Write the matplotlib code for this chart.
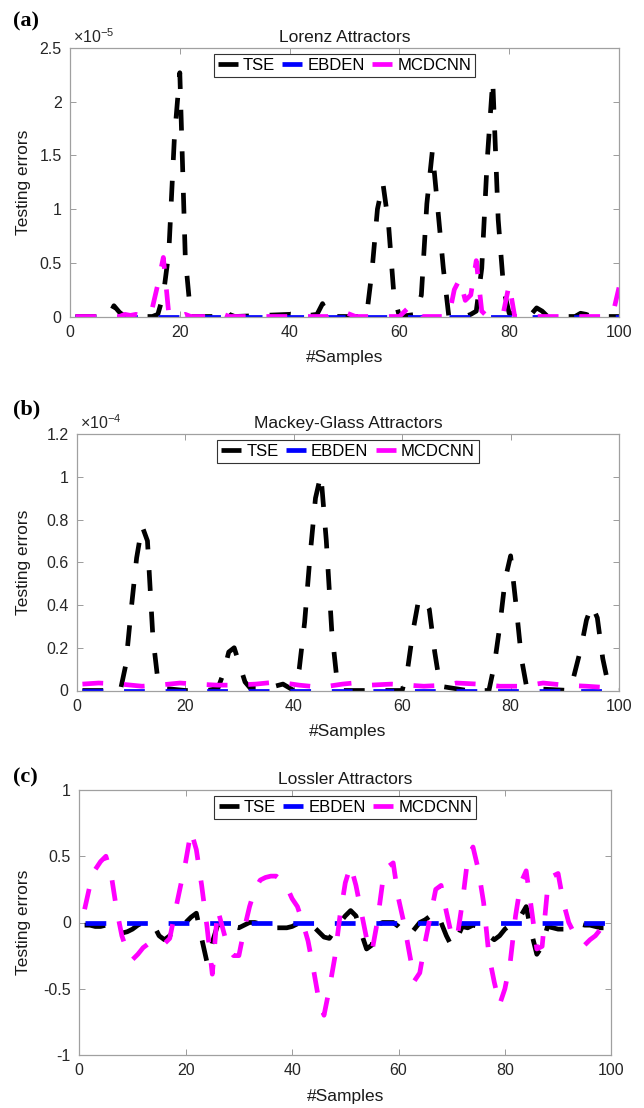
import matplotlib
matplotlib.use("Agg")
import matplotlib.pyplot as plt
from matplotlib.ticker import FuncFormatter

plt.rcParams['font.family'] = ['Liberation Sans', 'DejaVu Sans']
plt.rcParams['mathtext.default'] = 'regular'

samples = list(range(1, 101))
xticks = [0, 20, 40, 60, 80, 100]
series_names = ['TSE', 'EBDEN', 'MCDCNN']
series_colors = ['#000000', '#0000ff', '#ff00ff']

# (a) Lorenz attractors, errors in units of 1e-5 (read at the visible turning points)
tse_a_x = [1, 7, 8, 9, 10, 15, 16, 17, 18, 19, 20, 21, 22, 26, 27, 28, 29, 30, 40, 42,
           45, 46, 47, 54, 55, 56, 57, 58, 59, 60, 63, 64, 65, 66, 67, 68, 69, 72, 73,
           74, 75, 76, 77, 78, 79, 80, 84, 85, 86, 87, 92, 93, 94, 95, 100]
tse_a = [0.0, 0.0, 0.1, 0.04, 0.0, 0.0, 0.02, 0.2, 0.6, 1.65, 2.27, 0.55, 0.0, 0.0, 0.03,
         0.07, 0.02, 0.0, 0.02, 0.0, 0.02, 0.12, 0.0, 0.0, 0.42, 1.0, 1.24, 0.87, 0.2, 0.0,
         0.02, 0.2, 1.05, 1.54, 1.0, 0.45, 0.0, 0.0, 0.02, 0.05, 0.45, 1.46, 2.2, 0.9, 0.25,
         0.03, 0.02, 0.08, 0.05, 0.0, 0.0, 0.03, 0.02, 0.0, 0.0]
ebden_a = [0.0] * 100
mcd_a_x = [1, 9, 10, 11, 12, 14, 15, 16, 17, 18, 20, 21, 22, 25, 26, 27, 28, 29, 47, 48,
           49, 50, 51, 52, 60, 61, 62, 63, 64, 69, 70, 71, 72, 73, 74, 75, 76, 79, 80, 81,
           98, 99, 100]
mcd_a = [0.0, 0.0, 0.02, 0.01, 0.02, 0.0, 0.08, 0.3, 0.55, 0.02, 0.0, 0.02, 0.0, 0.0, 0.02,
         0.01, 0.02, 0.0, 0.0, 0.02, 0.01, 0.04, 0.02, 0.0, 0.0, 0.05, 0.1, 0.08, 0.0, 0.0,
         0.25, 0.35, 0.15, 0.2, 0.52, 0.05, 0.0, 0.05, 0.3, 0.0, 0.0, 0.05, 0.27]

# (b) Mackey-Glass attractors, errors in units of 1e-4
tse_b_x = [1, 8, 9, 10, 11, 12, 13, 14, 15, 16, 20, 24, 26, 27, 28, 29, 30, 31, 32, 35,
           38, 40, 41, 42, 43, 44, 45, 46, 47, 48, 49, 60, 61, 62, 63, 64, 65, 66, 67, 72,
           73, 74, 76, 77, 78, 79, 80, 81, 82, 83, 91, 92, 93, 94, 95, 96, 97, 98, 100]
tse_b = [0.0, 0.0, 0.12, 0.38, 0.62, 0.77, 0.7, 0.25, 0.03, 0.01, 0.0, 0.0, 0.01, 0.08,
         0.18, 0.2, 0.12, 0.04, 0.01, 0.01, 0.03, 0.0, 0.1, 0.32, 0.63, 0.9, 1.01, 0.7,
         0.28, 0.04, 0.0, 0.0, 0.1, 0.28, 0.42, 0.43, 0.38, 0.18, 0.02, 0.0, 0.01, 0.0,
         0.0, 0.12, 0.3, 0.52, 0.63, 0.4, 0.15, 0.01, 0.0, 0.1, 0.2, 0.33, 0.4, 0.34, 0.15,
         0.03, 0.01]
ebden_b = [0.0] * 100
mcd_b_x = [1, 4, 8, 12, 15, 19, 22, 26, 29, 33, 37, 41, 45, 49, 51, 54, 58, 61, 64, 68,
           70, 74, 78, 82, 86, 90, 94, 97, 100]
mcd_b = [0.03, 0.035, 0.03, 0.02, 0.025, 0.035, 0.03, 0.025, 0.025, 0.03, 0.04, 0.025,
         0.015, 0.03, 0.035, 0.025, 0.03, 0.025, 0.02, 0.025, 0.035, 0.03, 0.02, 0.02,
         0.035, 0.025, 0.02, 0.015, 0.03]

# (c) Lossler attractors, one value per sample
tse_c = [-0.02, -0.02, -0.03, -0.03, -0.02, -0.01, -0.03, -0.08, -0.07, -0.05,
         -0.02, 0.0, 0.0, -0.02, -0.1, -0.13, -0.1, -0.05, 0.0, 0.0,
         0.04, 0.07, -0.12, -0.3, -0.15, -0.02, 0.0, 0.0, -0.03, -0.04,
         -0.02, 0.0, 0.0, -0.01, -0.02, -0.03, -0.04, -0.04, -0.04, -0.03,
         -0.01, 0.0, 0.0, -0.03, -0.07, -0.11, -0.12, -0.06, 0.0, 0.05,
         0.09, 0.05, -0.08, -0.2, -0.17, -0.02, 0.0, 0.0, 0.0, -0.03,
         -0.07, -0.1, -0.05, 0.0, 0.02, 0.05, 0.08, 0.0, -0.1, -0.18,
         -0.12, -0.03, -0.04, -0.02, -0.03, -0.05, -0.1, -0.13, -0.1, -0.05,
         -0.02, 0.0, 0.05, 0.12, -0.08, -0.24, -0.18, -0.03, -0.04, -0.05,
         -0.05, -0.04, -0.03, -0.01, -0.02, -0.02, -0.03, -0.04, -0.04, -0.03]
ebden_c = [0.0] * 100
mcd_c = [0.1, 0.28, 0.4, 0.46, 0.5, 0.36, 0.1, -0.1, -0.22, -0.28,
         -0.24, -0.19, -0.16, -0.14, -0.13, -0.16, -0.12, 0.08, 0.27, 0.46,
         0.69, 0.55, 0.28, -0.03, -0.39, 0.1, -0.05, -0.2, -0.25, -0.25,
         -0.05, 0.12, 0.25, 0.32, 0.34, 0.35, 0.35, 0.32, 0.27, 0.18,
         0.12, 0.0, -0.14, -0.35, -0.58, -0.7, -0.5, -0.27, 0.05, 0.3,
         0.43, 0.28, 0.08, -0.12, -0.22, 0.0, 0.3, 0.42, 0.45, 0.18,
         0.0, -0.22, -0.44, -0.38, -0.15, 0.05, 0.25, 0.28, 0.08, -0.1,
         -0.12, 0.15, 0.48, 0.57, 0.4, 0.15, -0.25, -0.45, -0.62, -0.5,
         -0.3, 0.05, 0.3, 0.39, 0.1, -0.2, -0.18, 0.25, 0.35, 0.37,
         0.15, 0.0, -0.08, -0.13, -0.17, -0.13, -0.1, -0.05, -0.02, 0.0]

fig = plt.figure(figsize=(6.44, 11.08), dpi=100)

panels = [
    # tag, title, axes rect, data, yticks, exponent, tag height
    ('(a)', 'Lorenz Attractors', [70 / 644, 1 - 316.5 / 1108, 549 / 644, 268.5 / 1108],
     [(tse_a_x, tse_a), (samples, ebden_a), (mcd_a_x, mcd_a)],
     [0, 0.5, 1, 1.5, 2, 2.5], '-5', 21),
    ('(b)', 'Mackey-Glass Attractors', [77 / 644, 1 - 690.5 / 1108, 542 / 644, 256.5 / 1108],
     [(tse_b_x, tse_b), (samples, ebden_b), (mcd_b_x, mcd_b)],
     [0, 0.2, 0.4, 0.6, 0.8, 1, 1.2], '-4', 409),
    ('(c)', 'Lossler Attractors', [79.3 / 644, 1 - 1055 / 1108, 532 / 644, 265 / 1108],
     [(samples, tse_c), (samples, ebden_c), (samples, mcd_c)],
     [-1, -0.5, 0, 0.5, 1], None, 777),
]

for tag, title, rect, data, yticks, exponent, tag_y in panels:
    ax = fig.add_axes(rect)
    for (x, y), name, color in zip(data, series_names, series_colors):
        ax.plot(x, y, color=color, lw=3.4, dashes=(4.4, 4.4), label=name)

    ax.set_xlim(0, 100)
    ax.set_ylim(yticks[0], yticks[-1])
    ax.set_xticks(xticks)
    ax.set_yticks(yticks)
    ax.yaxis.set_major_formatter(FuncFormatter(lambda v, _: f'{v:g}'))
    ax.tick_params(direction='in', length=4, width=0.6, color='#8c8c8c',
                   labelsize=11.5, labelcolor='#262626', top=True, right=True, pad=6)
    for sp in ax.spines.values():
        sp.set_color('#a0a0a0')
        sp.set_linewidth(0.9)

    ax.set_title(title, fontsize=12.5, pad=4, color='#1a1a1a')
    ax.set_xlabel('#Samples', fontsize=12.5, color='#1a1a1a')
    ax.xaxis.set_label_coords(0.5, -41 / (rect[3] * 1108))
    ax.xaxis.label.set_va('center')
    ax.set_ylabel('Testing errors', fontsize=12.5, color='#1a1a1a')
    ax.yaxis.set_label_coords(-(rect[0] * 644 - 24) / (rect[2] * 644), 0.5)
    ax.yaxis.label.set_va('center')

    if exponent:
        ax.text(0.005, 1.008, r'$\times10^{' + exponent + '}$', transform=ax.transAxes,
                ha='left', va='bottom', fontsize=11.5, color='#262626')

    leg = ax.legend(loc='upper center', ncol=3, fontsize=12, fancybox=False,
                    edgecolor='#333333', framealpha=1, handlelength=1.2,
                    handletextpad=0.3, columnspacing=0.45, borderpad=0.25,
                    borderaxespad=0.35)
    leg.get_frame().set_linewidth(0.8)

    fig.text(13 / 644, 1 - tag_y / 1108, tag, family='Liberation Serif', weight='bold',
             fontsize=16, ha='left', va='center')

fig.savefig('out.png', dpi=100)
